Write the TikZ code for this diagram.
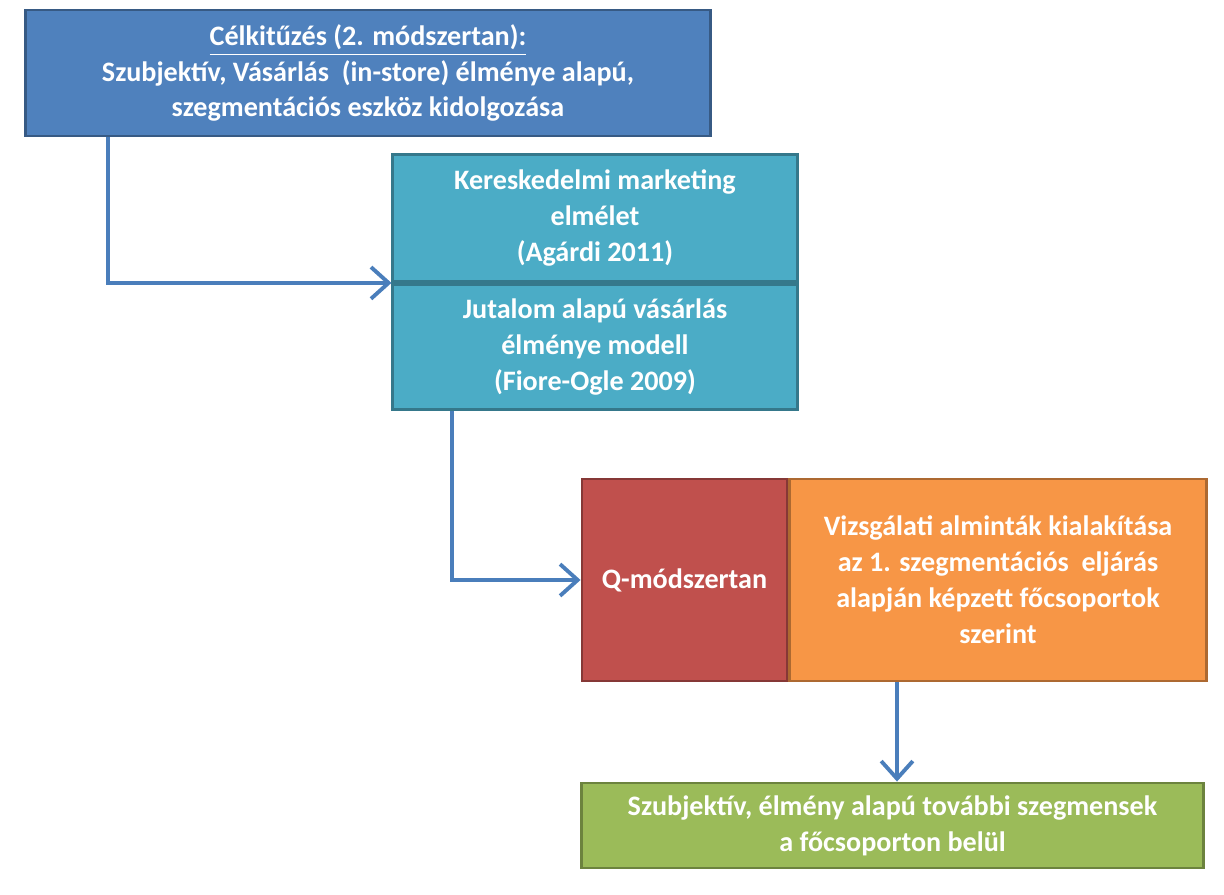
\documentclass[tikz,border=0pt]{standalone}
\usepackage{fontspec}
\setmainfont{Carlito}
\usetikzlibrary{positioning,arrows.meta}
\definecolor{topblue}{HTML}{4F81BD}
\definecolor{lightblue}{HTML}{4BACC6}
\definecolor{qred}{HTML}{C0504D}
\definecolor{qorange}{HTML}{F79646}
\definecolor{qgreen}{HTML}{9BBB59}
\definecolor{linkblue}{HTML}{4A7EBB}

\begin{document}
\begin{tikzpicture}[
  x=0.01cm, y=-0.01cm,
  box/.style = {
    draw,
    rectangle,
    line width = 0.8pt,
    text = white,
    font = \fontsize{8}{10.2}\selectfont\bfseries,
    align = center,
    inner sep = 0pt,
  },
  link/.style = {
    draw = linkblue,
    line width = 1.1pt,
    -{Straight Barb[length=5pt,width=9pt]},
  },
]

  \useasboundingbox (0,0) rectangle (1224,895);

  \node[box,fill=topblue,draw=topblue!70!black,minimum width=6.84cm,minimum height=1.26cm] (goal) at (368,73) {\underline{Célkitűzés (2. módszertan):}\\Szubjektív, Vásárlás\ \ (in-store) élménye alapú,\\szegmentációs eszköz kidolgozása};

  \node[box,fill=lightblue,draw=lightblue!70!black,minimum width=4.04cm,minimum height=1.27cm] (theory) at (595,218) {Kereskedelmi marketing\\elmélet\\(Agárdi 2011)};
  \node[box,fill=lightblue,draw=lightblue!70!black,minimum width=4.04cm,minimum height=1.25cm,below=0pt of theory] (model) {Jutalom alapú vásárlás\\élménye modell\\(Fiore-Ogle 2009)};

  \node[box,fill=qred,draw=qred!70!black,minimum width=2.05cm,minimum height=2.02cm] (qmethod) at (684.5,580) {Q-módszertan};
  \node[box,fill=qorange,draw=qorange!70!black,minimum width=4.16cm,minimum height=2.02cm,right=0pt of qmethod] (samples) {Vizsgálati alminták kialakítása\\az 1. szegmentációs\ \ eljárás\\alapján képzett főcsoportok\\szerint};

  \node[box,fill=qgreen,draw=qgreen!70!black,minimum width=6.21cm,minimum height=0.85cm] (segments) at (892.5,825.5) {Szubjektív, élmény alapú további szegmensek\\a főcsoporton belül};

  \draw[link] (goal.south -| 108,0) |- (theory.south west);
  \draw[link] (model.south -| 452,0) |- (qmethod.west);
  \draw[link] (samples.south -| 897,0) -- (segments.north -| 897,0);

\end{tikzpicture}
\end{document}
